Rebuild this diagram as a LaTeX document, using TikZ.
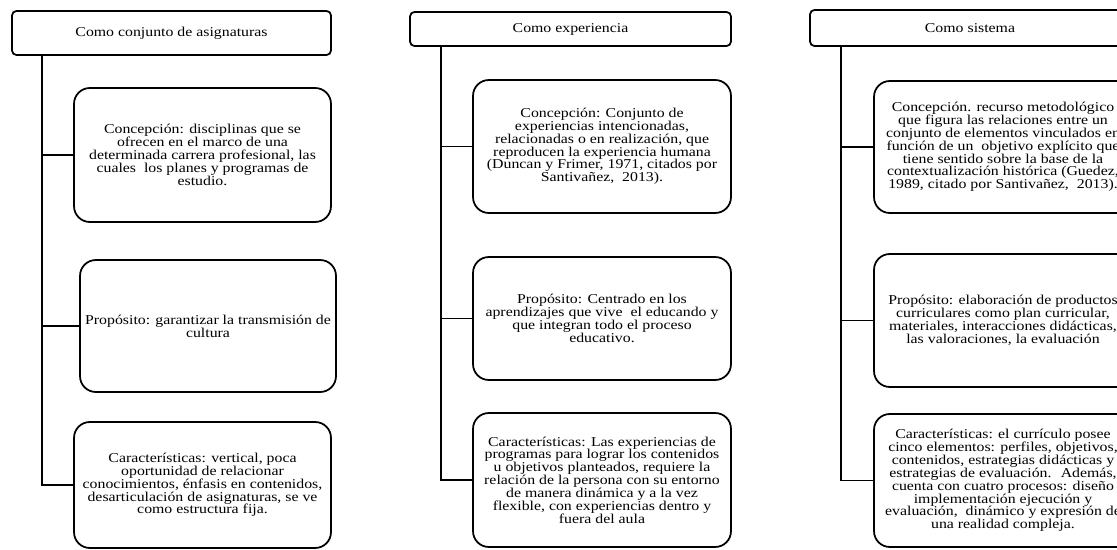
\documentclass[tikz,border=0pt]{standalone}
\usepackage{fontspec}
\setmainfont{Liberation Serif}[FakeStretch=1.17]
\begin{document}
\begin{tikzpicture}[x=0.02cm,y=-0.02cm,line width=1pt,
  tbox/.style={draw,rounded corners=2.5pt,inner sep=0pt,align=center,font=\fontsize{7.7}{7.5}\selectfont},
  cbox/.style={draw,rounded corners=9pt,inner sep=0pt,align=center,minimum width=5.16cm,font=\fontsize{7.7}{7.3}\selectfont}]
\path[use as bounding box,clip] (0,0) rectangle (1117,550);
% Como conjunto de asignaturas
\begin{scope}
\node[tbox,minimum width=6.38cm,minimum height=0.88cm] (t) at (171.5,33) {Como conjunto de asignaturas};
\node[cbox,minimum width=5.14cm,minimum height=2.68cm] (a) at (202.5,155) {Concepción: disciplinas que se\\ ofrecen en el marco de una\\ determinada carrera profesional, las\\ cuales~ los planes y programas de\\ estudio.};
\node[cbox,minimum width=5.12cm,minimum height=2.64cm] (b) at (208,326) {Propósito: garantizar la transmisión de\\ cultura};
\node[cbox,minimum width=5.14cm,minimum height=2.52cm] (c) at (202.5,485) {Características: vertical, poca\\ oportunidad de relacionar\\ conocimientos, énfasis en contenidos,\\ desarticulación de asignaturas, se ve\\ como estructura fija.};
\coordinate (s) at ([xshift=0.62cm]t.south west);
\path[draw,-] (s) |- (c.west);
\path[draw,-] (s |- a.west) -- (a.west);
\path[draw,-] (s |- b.west) -- (b.west);
\end{scope}
% Como experiencia
\begin{scope}
\node[tbox,minimum width=6.42cm,minimum height=0.68cm] (t) at (570.5,29) {Como experiencia};
\node[cbox,minimum height=2.66cm] (a) at (602,146.5) {Concepción: Conjunto de\\ experiencias intencionadas,\\ relacionadas o en realización, que\\ reproducen la experiencia humana\\ (Duncan y Frimer, 1971, citados por\\ Santivañez,~ 2013).};
\node[cbox,minimum height=2.46cm] (b) at (602,318.5) {Propósito: Centrado en los\\ aprendizajes que vive~ el educando y\\ que integran todo el proceso\\ educativo.};
\node[cbox,minimum height=2.68cm] (c) at (602,480) {Características: Las experiencias de\\ programas para lograr los contenidos\\ u objetivos planteados, requiere la\\ relación de la persona con su entorno\\ de manera dinámica y a la vez\\ flexible, con experiencias dentro y\\ fuera del aula};
\coordinate (s) at ([xshift=0.64cm]t.south west);
\path[draw,-] (s) |- (c.west);
\path[draw,-] (s |- a.west) -- (a.west);
\path[draw,-] (s |- b.west) -- (b.west);
\end{scope}
% Como sistema
\begin{scope}
\node[tbox,minimum width=6.4cm,minimum height=0.72cm] (t) at (970,28) {Como sistema};
\node[cbox,minimum height=2.64cm] (a) at (1003,147) {Concepción. recurso metodológico\\ que figura las relaciones entre un\\ conjunto de elementos vinculados en\\ función de un~ objetivo explícito que\\ tiene sentido sobre la base de la\\ contextualización histórica (Guedez,\\ 1989, citado por Santivañez,~ 2013).};
\node[cbox,minimum height=2.66cm] (b) at (1003,320.5) {Propósito: elaboración de productos\\ curriculares como plan curricular,\\ materiales, interacciones didácticas,\\ las valoraciones, la evaluación};
\node[cbox,minimum height=2.66cm] (c) at (1003,480.5) {Características: el currículo posee\\ cinco elementos: perfiles, objetivos,\\ contenidos, estrategias didácticas y\\ estrategias de evaluación.~ Además,\\ cuenta con cuatro procesos: diseño\\ implementación ejecución y\\ evaluación,~ dinámico y expresión de\\ una realidad compleja.};
\coordinate (s) at ([xshift=0.64cm]t.south west);
\path[draw,-] (s) |- (c.west);
\path[draw,-] (s |- a.west) -- (a.west);
\path[draw,-] (s |- b.west) -- (b.west);
\end{scope}
\end{tikzpicture}
\end{document}
